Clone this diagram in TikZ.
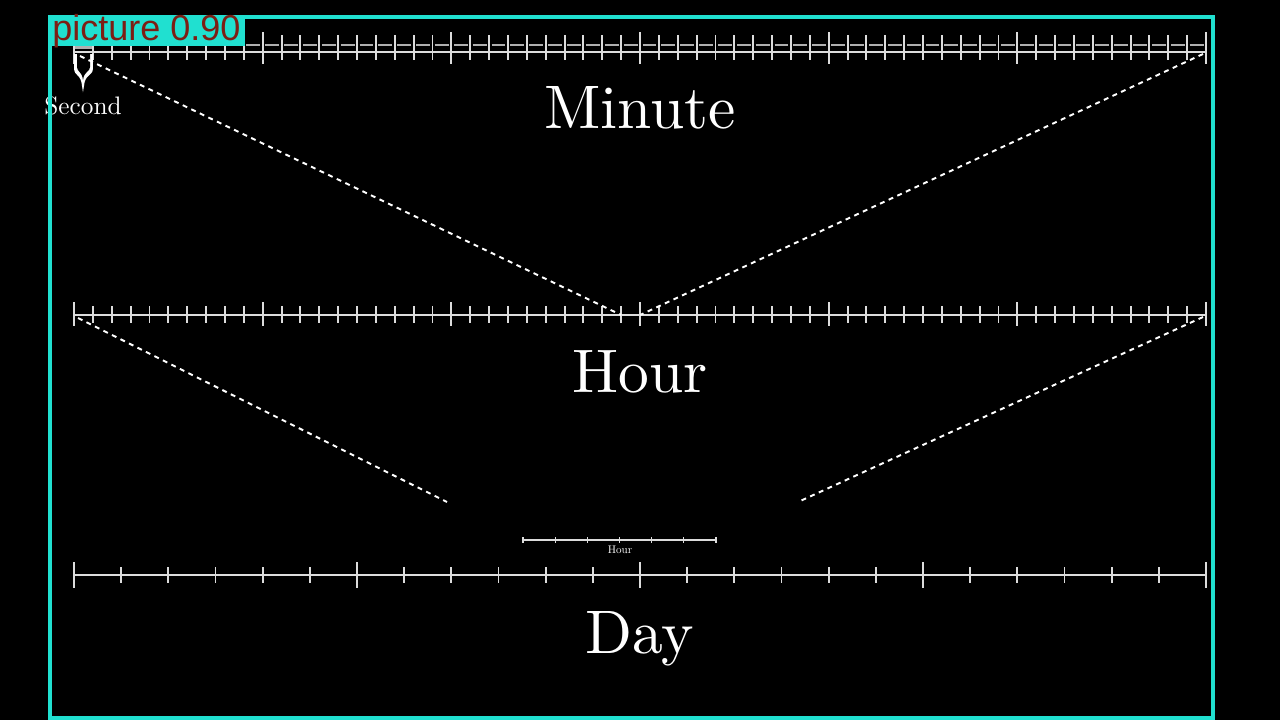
\documentclass[tikz,border=0pt]{standalone}
\usepackage{fontspec}
\newfontfamily\detfont{Liberation Sans}
\newfontfamily\cmten{lmroman10-regular}[Extension=.otf]
\definecolor{cyanbox}{RGB}{32,224,208}
\definecolor{labelred}{RGB}{125,30,20}
\definecolor{rulergray}{RGB}{220,220,220}
\definecolor{subgray}{RGB}{175,175,175}
\tikzset{
  axisline/.style={draw=rulergray, line width=1.2pt},
  ticksmall/.style={draw=rulergray, line width=1.1pt},
  tickbig/.style={draw=rulergray, line width=1.3pt},
  subbar/.style={draw=subgray, line width=1.6pt},
  zoomline/.style={draw=white, line width=1.1pt, dash pattern=on 2.8pt off 2.6pt},
  bigtitle/.style={text=white, font=\cmten\fontsize{35}{40}\selectfont, anchor=base, inner sep=0pt},
  smalltitle/.style={text=white, anchor=base, inner sep=0pt},
}
\begin{document}
\begin{tikzpicture}[x=0.02cm,y=-0.02cm]
\fill[black] (0,0) rectangle (1280,720);
\useasboundingbox (0,0) rectangle (1280,720);

% ---------- Minute ruler (seconds) ----------
\coordinate (m0) at (74,52);
\coordinate (m60) at (1206,52);
\draw[axisline] (m0) -- (m60);
\foreach \i in {0,...,59}{
  \draw[subbar] ({74+\i*18.8667+2.5},45) -- ({74+(\i+1)*18.8667-2.5},45);
}
\foreach \i in {0,...,60}{
  \draw[ticksmall] ({74+\i*18.8667},35) -- ({74+\i*18.8667},60);
}
\foreach \i in {0,10,...,60}{
  \draw[tickbig] ({74+\i*18.8667},32) -- ({74+\i*18.8667},64);
}
\fill[subgray] (75,42) rectangle (92,49);
% brace under first second
\draw[white, line width=1.1pt, fill=white]
  (75,54) -- (75,68) .. controls (75,76) and (82,73) .. (83,86)
  .. controls (84,73) and (92,76) .. (92,68) -- (92,54);
\fill[black] (77,54) -- (77,67) .. controls (77,72) and (82,71) .. (83,80)
  .. controls (84,71) and (90,72) .. (90,67) -- (90,54) -- cycle;
\node[smalltitle, font=\cmten\fontsize{14.4}{16}\selectfont] (second) at (83,114) {Second};
\node[bigtitle] (minute) at (640,128) {Minute};

% ---------- Hour ruler (minutes) ----------
\coordinate (h0) at (74,315);
\coordinate (h60) at (1206,315);
\draw[axisline] (h0) -- (h60);
\foreach \i in {0,...,60}{
  \draw[ticksmall] ({74+\i*18.8667},306) -- ({74+\i*18.8667},323);
}
\foreach \i in {0,10,...,60}{
  \draw[tickbig] ({74+\i*18.8667},302) -- ({74+\i*18.8667},326);
}
\node[bigtitle] (hour) at (640,392) {Hour};

% ---------- small Hour ruler ----------
\coordinate (s0) at (523,540);
\coordinate (s6) at (716,540);
\draw[draw=rulergray, line width=0.9pt] (s0) -- (s6);
\foreach \i in {0,...,6}{
  \draw[draw=rulergray, line width=0.7pt] ({523+\i*32.17},537) -- ({523+\i*32.17},543);
}
\node[smalltitle, font=\cmten\fontsize{6.3}{7}\selectfont] (hoursmall) at (620,553) {Hour};

% ---------- Day ruler (hours) ----------
\coordinate (d0) at (74,575);
\coordinate (d24) at (1206,575);
\draw[axisline] (d0) -- (d24);
\foreach \i in {0,...,24}{
  \draw[ticksmall] ({74+\i*47.1667},567) -- ({74+\i*47.1667},583);
}
\foreach \i in {0,6,...,24}{
  \draw[tickbig] ({74+\i*47.1667},562) -- ({74+\i*47.1667},588);
}
\node[bigtitle] (day) at (640,653) {Day};

% ---------- zoom lines ----------
\coordinate (mL) at (80,56);
\coordinate (mR) at (1203,54);
\coordinate (h29) at (621.2,315);
\coordinate (h30) at (640,315);
\coordinate (hL) at (78,318);
\coordinate (hR) at (1203,317);
\coordinate (tL) at (447,502);
\coordinate (tR) at (798,502);
\draw[zoomline] (mL) -- (h29);
\draw[zoomline] (mR) -- (h30);
\draw[zoomline] (hL) -- (tL);
\draw[zoomline] (hR) -- (tR);

% ---------- detection overlay ----------
\draw[cyanbox, line width=2pt] (50,17) rectangle (1213,718);
\fill[cyanbox] (48,16) rectangle (245,46);
\node[text=labelred, font=\detfont\fontsize{20.5}{22}\selectfont, inner sep=0pt, anchor=base west] (det) at (52,40) {picture 0.90};
\end{tikzpicture}
\end{document}
